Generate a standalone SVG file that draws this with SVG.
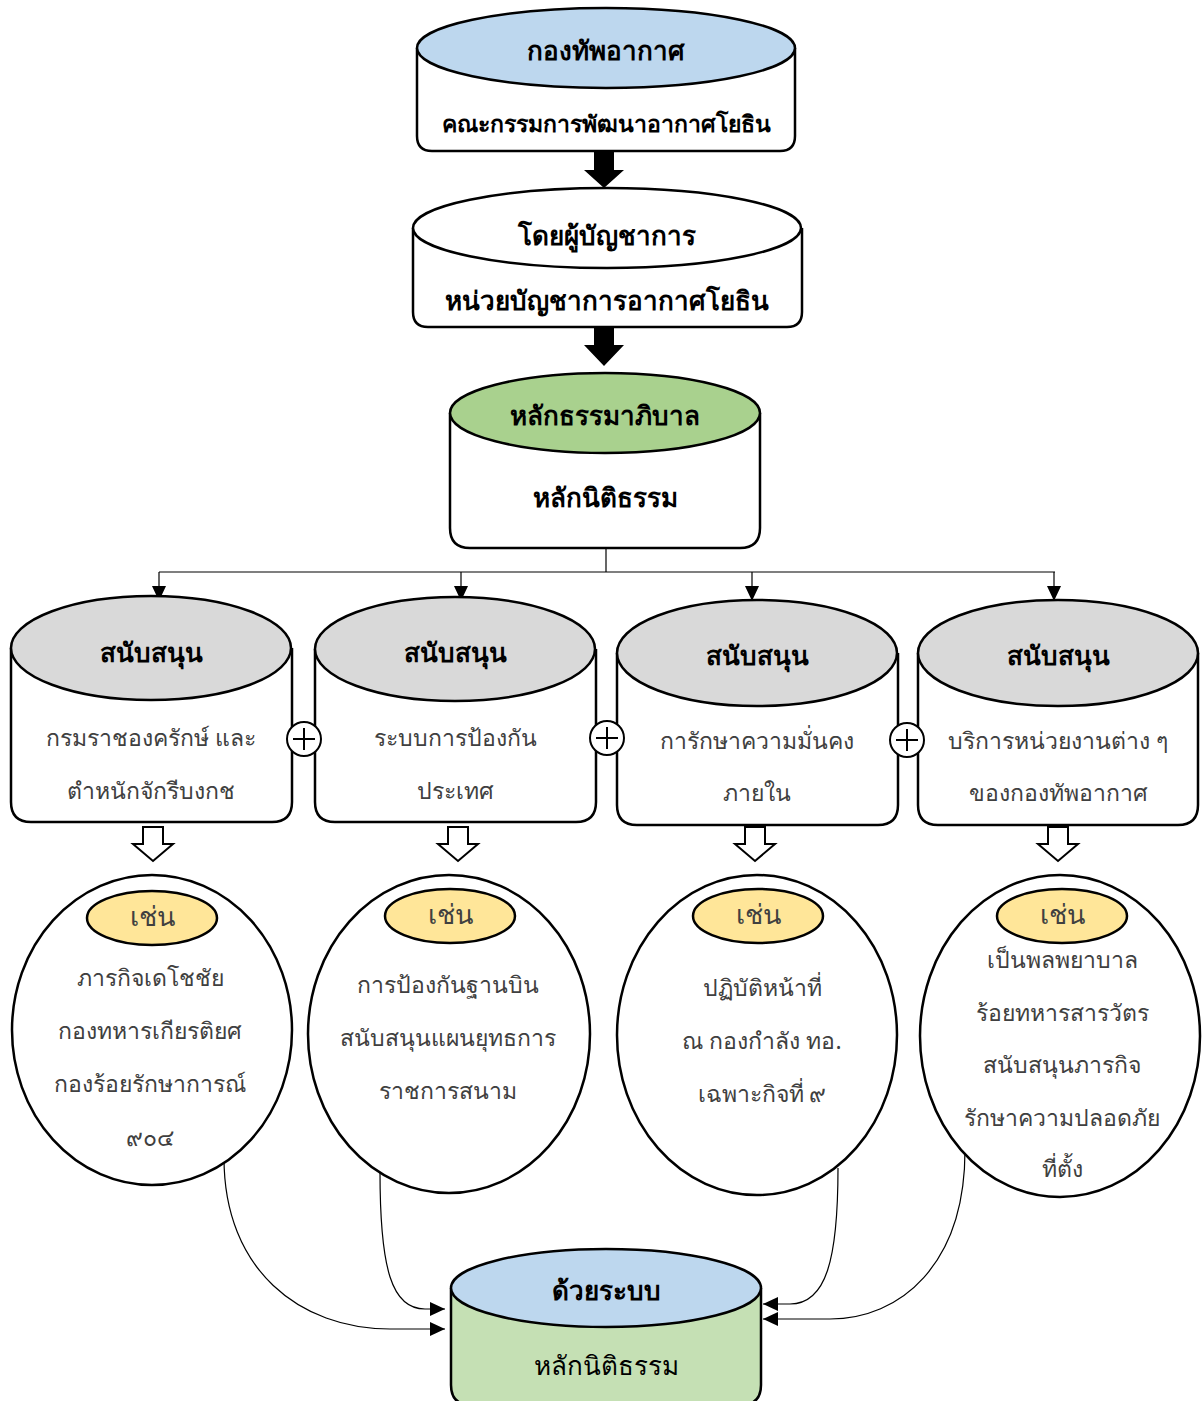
<svg xmlns="http://www.w3.org/2000/svg" width="1202" height="1401" viewBox="0 0 1202 1401">
<style>
text{font-family:"Noto Sans","DejaVu Sans",sans-serif;text-anchor:middle;dominant-baseline:central}
.h{font-weight:bold;font-size:26px;fill:#000}
.h2{font-weight:bold;font-size:23px;fill:#000}
.b{font-size:23px;fill:#404040}
.o{font-size:23px;fill:#404040}
.k{font-size:27px;fill:#404040}
.s{stroke:#000;stroke-width:2.5}
.c{stroke:#000;stroke-width:1.2;fill:none}
.blk{fill:#000}
.hol{fill:#fff;stroke:#000;stroke-width:2}
</style>
<defs>
<marker id="ah" markerUnits="userSpaceOnUse" markerWidth="16" markerHeight="16" viewBox="0 0 16 16" refX="15" refY="8" orient="auto">
<path d="M0,1 L15,8 L0,15 Z" fill="#000"/>
</marker>
</defs>

<g id="n1">
<path class="s" fill="#fff" d="M417,48 L417,136 Q417,151 432,151 L780,151 Q795,151 795,136 L795,48"/>
<ellipse class="s" cx="606" cy="48" rx="189" ry="40" fill="#bdd7ee"/>
<text class="h" x="606" y="50">กองทัพอากาศ</text>
<text class="h2" x="606" y="123">คณะกรรมการพัฒนาอากาศโยธิน</text>
</g>
<polygon class="blk" points="594,151 614,151 614,170 624,170 604,188 584,170 594,170"/>

<g id="n2">
<path class="s" fill="#fff" d="M413,228 L413,312 Q413,327 428,327 L787,327 Q802,327 802,312 L802,228"/>
<ellipse class="s" cx="607" cy="228" rx="194" ry="40" fill="#fff"/>
<text class="h" x="607" y="235">โดยผู้บัญชาการ</text>
<text class="h" x="607" y="300">หน่วยบัญชาการอากาศโยธิน</text>
</g>
<polygon class="blk" points="594,327 614,327 614,345 624,345 604,366 584,345 594,345"/>

<g id="n3">
<path class="s" fill="#fff" d="M450,413 L450,528 Q450,548 470,548 L740,548 Q760,548 760,528 L760,413"/>
<ellipse class="s" cx="605" cy="413" rx="155" ry="40" fill="#a9d18e"/>
<text class="h" x="605" y="415">หลักธรรมาภิบาล</text>
<text class="h" x="605" y="497">หลักนิติธรรม</text>
</g>

<g id="connectors">
<path class="c" d="M606,548 L606,572"/>
<path class="c" d="M159,572 L1055,572"/>
<path class="c" d="M159,572 L159,601" marker-end="url(#ah)"/>
<path class="c" d="M461,572 L461,601" marker-end="url(#ah)"/>
<path class="c" d="M752,572 L752,601" marker-end="url(#ah)"/>
<path class="c" d="M1054,572 L1054,601" marker-end="url(#ah)"/>
<path class="c" d="M224,1158 C224,1270 300,1329 390,1329 L445,1329" marker-end="url(#ah)"/>
<path class="c" d="M380,1172 C380,1270 392,1309 425,1309 L445,1309" marker-end="url(#ah)"/>
<path class="c" d="M838,1168 C838,1260 826,1304 790,1304 L763,1304" marker-end="url(#ah)"/>
<path class="c" d="M965,1150 C965,1265 900,1319 830,1319 L763,1319" marker-end="url(#ah)"/>
</g>

<g id="s1">
<path class="s" fill="#fff" d="M11,648 L11,802 Q11,822 31,822 L272,822 Q292,822 292,802 L292,648"/>
<ellipse class="s" cx="151" cy="648" rx="140" ry="52" fill="#d9d9d9"/>
<text class="h" x="151" y="652">สนับสนุน</text>
<text class="b" x="151" y="737">กรมราชองครักษ์ และ</text>
<text class="b" x="151" y="790">ตำหนักจักรีบงกช</text>
</g>
<g id="s2">
<path class="s" fill="#fff" d="M315,649 L315,802 Q315,822 335,822 L576,822 Q596,822 596,802 L596,649"/>
<ellipse class="s" cx="455" cy="649" rx="140" ry="52" fill="#d9d9d9"/>
<text class="h" x="455" y="652">สนับสนุน</text>
<text class="b" x="455" y="737">ระบบการป้องกัน</text>
<text class="b" x="455" y="790">ประเทศ</text>
</g>
<g id="s3">
<path class="s" fill="#fff" d="M617,653 L617,805 Q617,825 637,825 L878,825 Q898,825 898,805 L898,653"/>
<ellipse class="s" cx="757" cy="653" rx="140" ry="53" fill="#d9d9d9"/>
<text class="h" x="757" y="655">สนับสนุน</text>
<text class="b" x="757" y="740">การักษาความมั่นคง</text>
<text class="b" x="757" y="792">ภายใน</text>
</g>
<g id="s4">
<path class="s" fill="#fff" d="M918,653 L918,805 Q918,825 938,825 L1178,825 Q1198,825 1198,805 L1198,653"/>
<ellipse class="s" cx="1058" cy="653" rx="140" ry="53" fill="#d9d9d9"/>
<text class="h" x="1058" y="655">สนับสนุน</text>
<text class="b" x="1058" y="740">บริการหน่วยงานต่าง ๆ</text>
<text class="b" x="1058" y="792">ของกองทัพอากาศ</text>
</g>

<g id="p1"><circle cx="304" cy="739" r="17" fill="#fff" stroke="#000" stroke-width="2"/><path d="M293,739 H315 M304,728 V750" stroke="#000" stroke-width="2"/></g>
<g id="p2"><circle cx="607" cy="738" r="17" fill="#fff" stroke="#000" stroke-width="2"/><path d="M596,738 H618 M607,727 V749" stroke="#000" stroke-width="2"/></g>
<g id="p3"><circle cx="907" cy="740" r="17" fill="#fff" stroke="#000" stroke-width="2"/><path d="M896,740 H918 M907,729 V751" stroke="#000" stroke-width="2"/></g>

<polygon class="hol" points="143,827 163,827 163,844 173,844 153,861 133,844 143,844"/>
<polygon class="hol" points="448,827 468,827 468,844 478,844 458,861 438,844 448,844"/>
<polygon class="hol" points="745,827 765,827 765,844 775,844 755,861 735,844 745,844"/>
<polygon class="hol" points="1048,827 1068,827 1068,844 1078,844 1058,861 1038,844 1048,844"/>

<g id="o1">
<ellipse class="s" cx="152" cy="1030" rx="140" ry="155" fill="#fff"/>
<ellipse class="s" cx="152" cy="918" rx="65" ry="27" fill="#ffe699"/>
<text class="k" x="152" y="915">เช่น</text>
<text class="o" x="150" y="977">ภารกิจเดโชชัย</text>
<text class="o" x="150" y="1030">กองทหารเกียรติยศ</text>
<text class="o" x="150" y="1083">กองร้อยรักษาการณ์</text>
<text class="o" x="150" y="1137">๙๐๔</text>
</g>
<g id="o2">
<ellipse class="s" cx="449" cy="1034" rx="141" ry="159" fill="#fff"/>
<ellipse class="s" cx="450" cy="916" rx="65" ry="27" fill="#ffe699"/>
<text class="k" x="450" y="913">เช่น</text>
<text class="o" x="448" y="984">การป้องกันฐานบิน</text>
<text class="o" x="448" y="1037">สนับสนุนแผนยุทธการ</text>
<text class="o" x="448" y="1090">ราชการสนาม</text>
</g>
<g id="o3">
<ellipse class="s" cx="757" cy="1035" rx="140" ry="160" fill="#fff"/>
<ellipse class="s" cx="758" cy="916" rx="65" ry="27" fill="#ffe699"/>
<text class="k" x="758" y="913">เช่น</text>
<text class="o" x="762" y="987">ปฏิบัติหน้าที่</text>
<text class="o" x="762" y="1040">ณ กองกำลัง ทอ.</text>
<text class="o" x="762" y="1093">เฉพาะกิจที่ ๙</text>
</g>
<g id="o4">
<ellipse class="s" cx="1060" cy="1036" rx="140" ry="161" fill="#fff"/>
<ellipse class="s" cx="1062" cy="916" rx="65" ry="27" fill="#ffe699"/>
<text class="k" x="1062" y="913">เช่น</text>
<text class="o" x="1062" y="959">เป็นพลพยาบาล</text>
<text class="o" x="1062" y="1012">ร้อยทหารสารวัตร</text>
<text class="o" x="1062" y="1064">สนับสนุนภารกิจ</text>
<text class="o" x="1062" y="1117">รักษาความปลอดภัย</text>
<text class="o" x="1062" y="1168">ที่ตั้ง</text>
</g>

<g id="n4">
<path class="s" fill="#c5e0b4" d="M451,1288 L451,1385 Q451,1405 471,1405 L741,1405 Q761,1405 761,1385 L761,1288"/>
<ellipse class="s" cx="606" cy="1288" rx="155" ry="39" fill="#bdd7ee"/>
<text class="h" x="606" y="1290">ด้วยระบบ</text>
<text x="606" y="1365" style="fill:#000;font-size:26px">หลักนิติธรรม</text>
</g>
</svg>
